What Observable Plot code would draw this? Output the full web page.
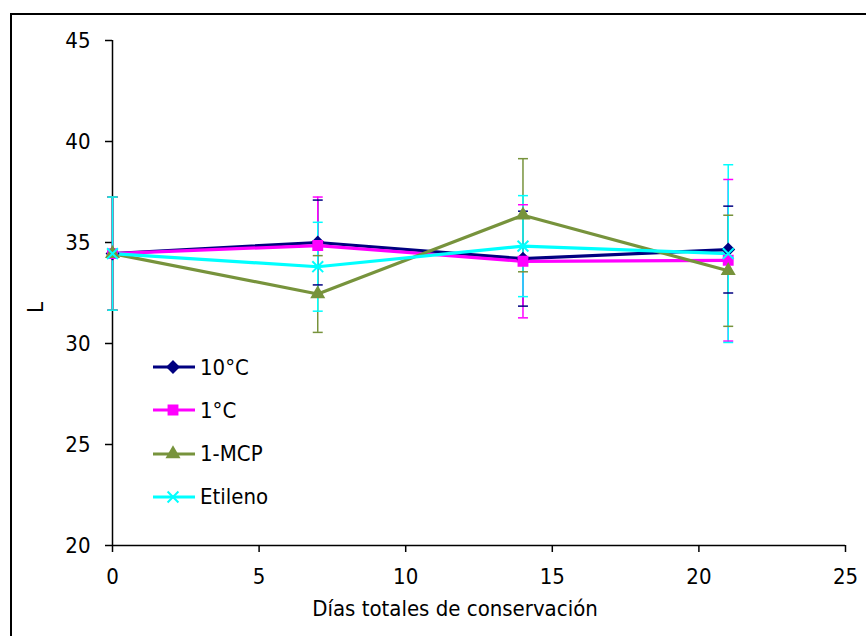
<!DOCTYPE html>
<html><head><meta charset="utf-8">
<script src="https://cdn.jsdelivr.net/npm/d3@7"></script>
<script src="https://cdn.jsdelivr.net/npm/@observablehq/plot@0.6"></script>
<style>
body{margin:0;background:#fff;}
#wrap{position:relative;width:866px;height:636px;overflow:hidden;font-family:"DejaVu Sans Condensed","DejaVu Sans",sans-serif;}
#frame{position:absolute;left:10px;top:13px;width:900px;height:700px;border-left:2px solid #000;border-top:2px solid #000;box-sizing:border-box;}
#chart{position:absolute;left:0;top:0;}
#legend{position:absolute;left:150px;top:0;}
.row{position:absolute;left:0;height:24px;display:flex;align-items:center;font-size:22px;color:#000;white-space:nowrap;}
</style></head><body>
<div id="wrap"><div id="frame"></div><div id="chart"></div><div id="legend"></div></div>
<script>
const days = [0, 7, 14, 21];
const seriesNames = ["10°C", "1°C", "1-MCP", "Etileno"];
const v10  = [34.45, 35.00, 34.20, 34.65];
const e10  = [2.80, 2.10, 2.35, 2.15];
const v1   = [34.45, 34.85, 34.07, 34.12];
const e1   = [2.80, 2.40, 2.80, 4.00];
const vMCP = [34.45, 32.45, 36.35, 33.60];
const eMCP = [2.80, 1.90, 2.80, 2.75];
const vEt  = [34.45, 33.80, 34.82, 34.45];
const eEt  = [2.80, 2.20, 2.50, 4.40];
const colors = ["#000080", "#FF00FF", "#77933C", "#00FFFF"];
const symbols = ["diamond2", "square", "triangle", "times"];
const xTicks = [0, 5, 10, 15, 20, 25];
const yTicks = [20, 25, 30, 35, 40, 45];
const xLabel = "Días totales de conservación";
const yLabel = "L";

const vals = [v10, v1, vMCP, vEt];
const errs = [e10, e1, eMCP, eEt];
const symR = [5, 5, 4.3, 5];
const rows = [];
seriesNames.forEach((s, i) => days.forEach((d, j) => rows.push({series: s, day: d, L: vals[i][j], err: errs[i][j]})));
const capHalf = 0.17;
const font = '"DejaVu Sans Condensed","DejaVu Sans",sans-serif';

const chart = Plot.plot({
  width: 866, height: 636,
  marginLeft: 112, marginRight: 21, marginTop: 40, marginBottom: 91,
  style: {fontFamily: font, fontSize: "22px", background: "transparent", color: "#000"},
  x: {domain: [0, 25]},
  y: {domain: [20, 45]},
  color: {domain: seriesNames, range: colors},
  symbol: {domain: seriesNames, range: symbols},
  marks: [
    Plot.axisX({ticks: xTicks, tickSize: 7, tickPadding: 16, label: null, strokeWidth: 1.5, fontSize: 22}),
    Plot.axisY({ticks: yTicks, tickSize: 7, tickPadding: 15, label: null, strokeWidth: 1.5, fontSize: 22}),
    Plot.ruleY([20], {stroke: "#000", strokeWidth: 1.5}),
    Plot.ruleX([0], {stroke: "#000", strokeWidth: 1.5}),
    Plot.text([xLabel], {frameAnchor: "bottom", dy: 63, fontSize: 22, lineAnchor: "middle", dx: -24}),
    Plot.text([yLabel], {frameAnchor: "left", dx: -77, dy: 20, rotate: -90, fontSize: 22, lineAnchor: "middle"}),
    Plot.ruleX(rows, {x: "day", y1: d => d.L - d.err, y2: d => d.L + d.err, stroke: "series", strokeWidth: 1.5}),
    Plot.link(rows, {x1: d => d.day - capHalf, x2: d => d.day + capHalf, y1: d => d.L + d.err, y2: d => d.L + d.err, stroke: "series", strokeWidth: 1.5}),
    Plot.link(rows, {x1: d => d.day - capHalf, x2: d => d.day + capHalf, y1: d => d.L - d.err, y2: d => d.L - d.err, stroke: "series", strokeWidth: 1.5}),
    Plot.line(rows, {x: "day", y: "L", z: "series", stroke: "series", strokeWidth: 3.2}),
    ...seriesNames.map((s, i) => Plot.dot(rows.filter(d => d.series === s), {x: "day", y: "L", symbol: "series", fill: "series", stroke: "series", strokeWidth: 2, r: symR[i]}))
  ]
});
document.getElementById("chart").appendChild(chart);

// Legend (Excel-style line + marker)
const legend = document.getElementById("legend");
const d3sym = {diamond2: d3.symbolDiamond2, square: d3.symbolSquare, triangle: d3.symbolTriangle, times: d3.symbolTimes};
seriesNames.forEach((s, i) => {
  const row = document.createElement("div");
  row.className = "row";
  row.style.top = (355 + i * 43.3) + "px";
  const svg = d3.create("svg").attr("width", 48).attr("height", 24);
  svg.append("line").attr("x1", 3).attr("x2", 45).attr("y1", 12).attr("y2", 12)
    .attr("stroke", colors[i]).attr("stroke-width", 3.2);
  svg.append("path").attr("transform", "translate(23,12)")
    .attr("d", d3.symbol(d3sym[symbols[i]], Math.PI * symR[i] * symR[i])())
    .attr("fill", symbols[i] === "times" ? "none" : colors[i])
    .attr("stroke", colors[i]).attr("stroke-width", 2);
  row.appendChild(svg.node());
  const t = document.createElement("span");
  t.textContent = s;
  t.style.marginLeft = "2px";
  row.appendChild(t);
  legend.appendChild(row);
});
</script>
</body></html>
